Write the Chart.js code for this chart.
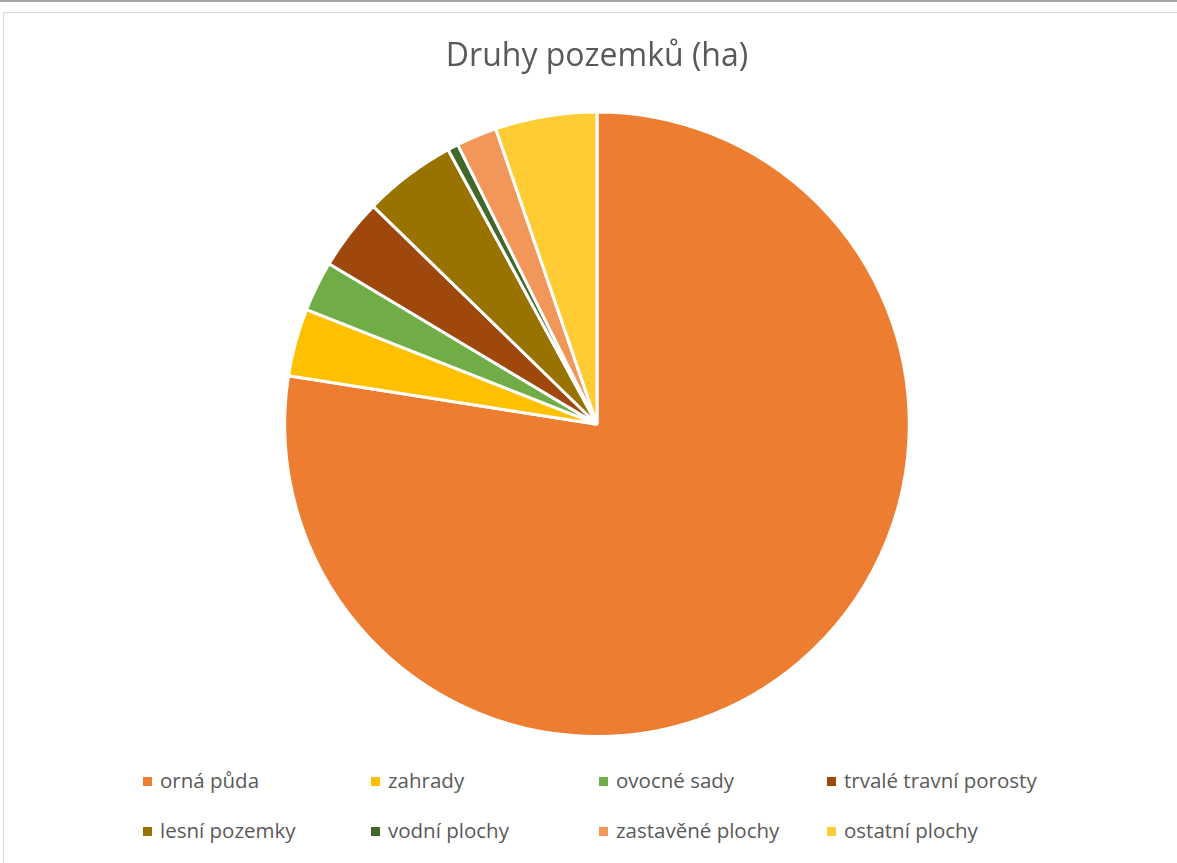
<!DOCTYPE html>
<html>
<head>
<meta charset="utf-8">
<script src="https://cdn.jsdelivr.net/npm/chart.js@4.4.0/dist/chart.umd.min.js"></script>
<style>
    body { margin:0; background:#fff; width:1177px; height:863px; overflow:hidden; position:relative; font-family:"Open Sans", sans-serif; }
    #topline { position:absolute; left:0; top:0; width:1177px; height:2px; background:#a6a6a6; }
    #frame { position:absolute; left:3px; top:12px; width:1200px; height:900px; border:1px solid #d9d9d9; border-right:none; border-bottom:none; }
    #chart { position:absolute; left:0; top:0; }
    .item { position:absolute; height:24px; line-height:24px; font-size:20.5px; color:#595959; white-space:nowrap; }
    .item span { display:inline-block; width:9px; height:9px; margin-right:8px; vertical-align:middle; position:relative; top:-1px; }
</style>
</head>
<body>
<div id="topline"></div>
<div id="frame"></div>
<canvas id="chart" width="1177" height="745"></canvas>
<div id="legend"></div>
<script>

const title = "Druhy pozemků (ha)";

const categories = [
    "orná půda",
    "zahrady",
    "ovocné sady",
    "trvalé travní porosty",
    "lesní pozemky",
    "vodní plochy",
    "zastavěné plochy",
    "ostatní plochy"
];

const areas = [774, 35, 26, 37, 48, 5.5, 21, 52.5];

const colors = [
    "#ED7D31",
    "#FFC000",
    "#70AD47",
    "#9E480E",
    "#997300",
    "#43682B",
    "#F1975A",
    "#FFCD33"
];

new Chart(document.getElementById("chart"), {

    type: "pie",

    data: {
        labels: categories,
        datasets: [{
            data: areas,
            backgroundColor: colors,
            borderColor: "#ffffff",
            borderWidth: 3
        }]
    },

    options: {
        responsive: false,
        animation: false,
        devicePixelRatio: 1,
        layout: {
            padding: { left: 17, right: 0, top: 0, bottom: 7 }
        },
        plugins: {
            legend: { display: false },
            tooltip: { enabled: false },
            title: {
                display: true,
                text: title,
                color: "#595959",
                font: { family: "Open Sans", size: 32, weight: "normal" },
                padding: { top: 38, bottom: 34 }
            }
        }
    }

});

// legend laid out as a 4 x 2 grid like the original
const legend = document.getElementById("legend");

categories.forEach((name, i) => {

    const col = i % 4;
    const row = Math.floor(i / 4);

    const div = document.createElement("div");
    div.className = "item";
    div.style.left = (143 + col * 228) + "px";
    div.style.top = (768 + row * 50) + "px";
    div.innerHTML = `<span style="background:${colors[i]}"></span>${name}`;

    legend.appendChild(div);

});

</script>
</body>
</html>
